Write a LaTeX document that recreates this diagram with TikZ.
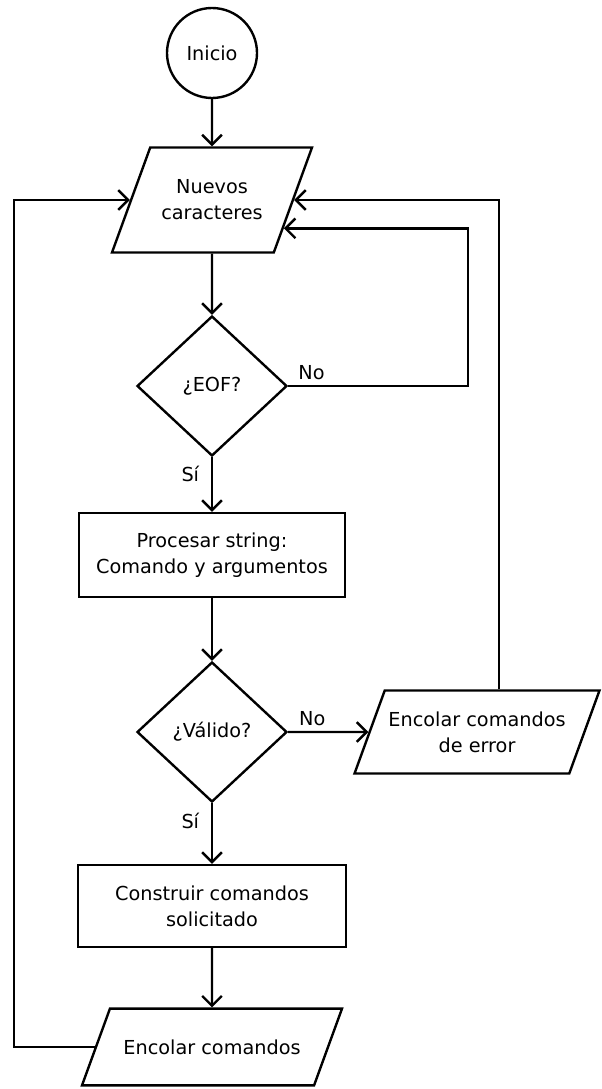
\documentclass[tikz,border=0pt]{standalone}
\usepackage{fontspec}
\setmainfont{DejaVu Sans}
\usetikzlibrary{shapes.geometric}
\usetikzlibrary{arrows.meta}
\usetikzlibrary{calc}

\tikzset{
  base/.style={draw, line width=1.7pt, align=center, inner sep=2pt, font=\fontsize{13.7}{18.5}\selectfont},
  inicio/.style={base, circle, minimum size=2.25cm},
  datos/.style={base, trapezium, trapezium left angle=70, trapezium right angle=110, trapezium stretches body=true},
  proceso/.style={base, rectangle},
  decision/.style={base, diamond, aspect=1, minimum width=3.75cm, minimum height=3.5cm, inner sep=0pt},
  flecha/.style={line width=1.7pt, -{Straight Barb[length=7pt, width=14pt]}},
  etiqueta/.style={font=\fontsize{13.7}{18.5}\selectfont}
}

\begin{document}
\begin{tikzpicture}
        \useasboundingbox (0,0) rectangle (15.025,-27.225);

        \node[inicio] (inicio) at (5.3,-1.325) {Inicio};
        \node[datos, minimum width=5cm, inner ysep=23pt] (nuevos) at (5.3,-5) {Nuevos\\caracteres};
        \node[decision] (eof) at (5.3,-9.65) {¿EOF?};
        \node[proceso, minimum width=6.65cm, minimum height=2.1cm] (procesar) at (5.3,-13.875) {Procesar string:\\Comando y argumentos};
        \node[decision] (valido) at (5.3,-18.3) {¿Válido?};
        \node[datos, minimum width=6.125cm, inner ysep=15pt] (error) at (11.925,-18.3) {Encolar comandos\\de error};
        \node[proceso, minimum width=6.7cm, minimum height=2.05cm] (construir) at (5.3,-22.65) {Construir comandos\\solicitado};
        \node[datos, minimum width=6.5cm, inner ysep=22pt] (encolar) at (5.3,-26.175) {Encolar comandos};

        \coordinate (railL) at (0.35,0);
        \coordinate (railR) at (11.7,0);

        \draw[flecha] (inicio) -- (nuevos);
        \draw[flecha] (nuevos) -- (eof);
        \draw[flecha] (eof) -- node[etiqueta, left=5pt, pos=0.3] {Sí} (procesar);
        \draw[flecha] (procesar) -- (valido);
        \draw[flecha] (valido) -- node[etiqueta, left=5pt, pos=0.3] {Sí} (construir);
        \draw[flecha] (construir) -- (encolar);
        \draw[flecha] (valido) -- node[etiqueta, above, pos=0.3] {No} (error);

        % lazos de vuelta
        \draw[flecha] (eof.east) -- node[etiqueta, above, pos=0.13] {No} (eof.east -| railR)
            |- ($(nuevos.bottom right corner)!0.236!(nuevos.top right corner)$);
        \draw[flecha] ($(error.top left corner)!0.53!(error.top right corner)$) |- (nuevos.east);
        \draw[flecha] (encolar.west) -- (encolar.west -| railL) |- (nuevos.west);
\end{tikzpicture}
\end{document}
